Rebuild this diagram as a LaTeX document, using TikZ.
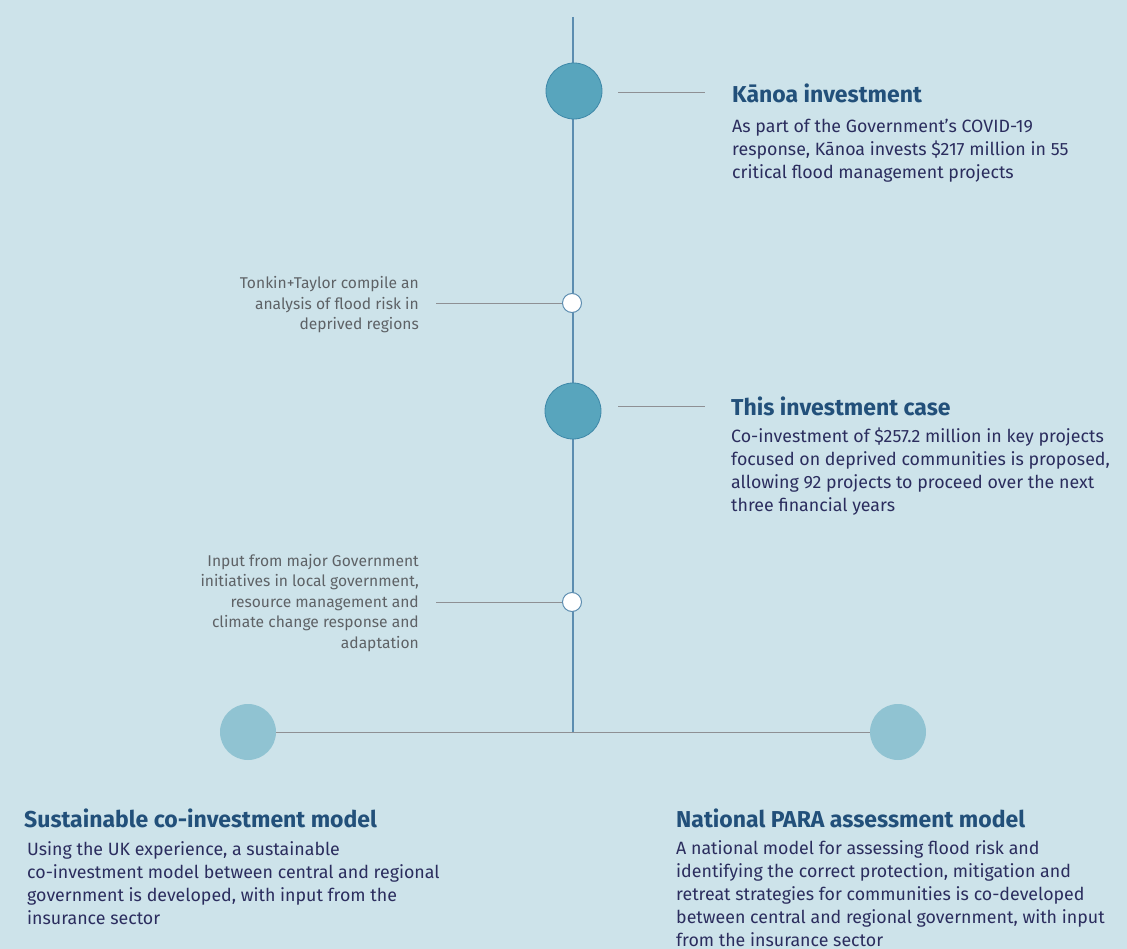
\documentclass[tikz,border=0pt]{standalone}
\usepackage{fontspec}
\setmainfont{Fira Sans}
\usepackage{tikz}
\usetikzlibrary{positioning}

\definecolor{bgblue}{HTML}{CDE3EA}
\definecolor{dotdark}{HTML}{58A5BD}
\definecolor{dotedge}{HTML}{3E88A8}
\definecolor{dotlight}{HTML}{90C3D2}
\definecolor{spine}{HTML}{5C8DB0}
\definecolor{leader}{HTML}{8E9094}
\definecolor{headblue}{HTML}{22507A}
\definecolor{bodynavy}{HTML}{2B2D5E}
\definecolor{notegray}{HTML}{5E6266}

\begin{document}
\begin{tikzpicture}[
                x=1pt,y=-1pt,
                bigdot/.style={circle,fill=dotdark,draw=dotedge,line width=0.8pt,minimum size=56pt,inner sep=0pt},
                softdot/.style={circle,fill=dotlight,minimum size=56pt,inner sep=0pt},
                smalldot/.style={circle,fill=white,draw=spine,line width=1pt,minimum size=19pt,inner sep=0pt},
                leaderline/.style={draw=leader,line width=0.9pt},
                spineline/.style={draw=spine,line width=1.2pt},
                heading/.style={anchor=base west,inner sep=0pt,font=\fontsize{23}{26}\selectfont\bfseries,text=headblue},
                body/.style={anchor=base west,inner sep=0pt,align=left,font=\fontsize{17.8}{23}\selectfont,text=bodynavy},
                note/.style={anchor=base east,inner sep=0pt,align=right,font=\fontsize{15.6}{20.5}\selectfont,text=notegray}
            ]
                \fill[bgblue] (0,0) rectangle (1127,949);
                \useasboundingbox (0,0) rectangle (1127,949);
                % spine and the fork at the bottom
                \coordinate (top)  at (573,17);
                \coordinate (fork) at (573,732);
                \node[softdot] (uk)   at (248,732) {};
                \node[softdot] (para) at (898,732) {};
                \draw[leaderline] (uk) -- (para);
                \draw[spineline] (top) -- (fork);
                % milestones on the spine
                \node[bigdot]   (kanoa) at (574,91)  {};
                \node[smalldot] (tt)    at (572,303) {};
                \node[bigdot]   (case)  at (573,411) {};
                \node[smalldot] (govt)  at (572,602) {};
                % leaders out to the texts
                \coordinate (kanoaA) at (618,92);
                \coordinate (kanoaB) at (705,92);
                \coordinate (caseA)  at (618,406);
                \coordinate (caseB)  at (705,406);
                \coordinate (ttA)    at (436,303);
                \coordinate (govtA)  at (436,602);
                \draw[leaderline] (kanoaA) -- (kanoaB);
                \draw[leaderline] (caseA) -- (caseB);
                \draw[leaderline] (ttA) -- (tt);
                \draw[leaderline] (govtA) -- (govt);
                % right hand texts (multi-line nodes sit on their last baseline)
                \node[heading] (kanoaHead) at (732,103) {Kānoa investment};
                \node[body] (kanoaText) at (732,179) {As part of the Government’s COVID-19\\
                    response, Kānoa invests \$217 million in 55\\critical flood management projects};
                \node[heading] (caseHead) at (731,415) {This investment case};
                \node[body] (caseText) at (731,511) {Co-investment of \$257.2 million in key projects\\
                    focused on deprived communities is proposed,\\allowing 92 projects to proceed over the next\\three financial years};
                % left hand notes
                \node[note] (ttText) at (419,330) {Tonkin+Taylor compile an\\analysis of flood risk in\\deprived regions};
                \node[note] (govtText) at (419,648) {Input from major Government\\initiatives in local government,\\
                    resource management and\\climate change response and\\adaptation};
                % the two models under the fork
                \node[heading] (ukHead) at (24,827) {Sustainable co-investment model};
                \node[body] (ukText) at (27,924) {Using the UK experience, a sustainable\\
                    co-investment model between central and regional\\government is developed, with input from the\\insurance sector};
                \node[heading] (paraHead) at (676,827) {National PARA assessment model};
                \node[body] (paraText) at (676,946) {A national model for assessing flood risk and\\
                    identifying the correct protection, mitigation and\\retreat strategies for communities is co-developed\\
                    between central and regional government, with input\\from the insurance sector};
            \end{tikzpicture}
\end{document}
